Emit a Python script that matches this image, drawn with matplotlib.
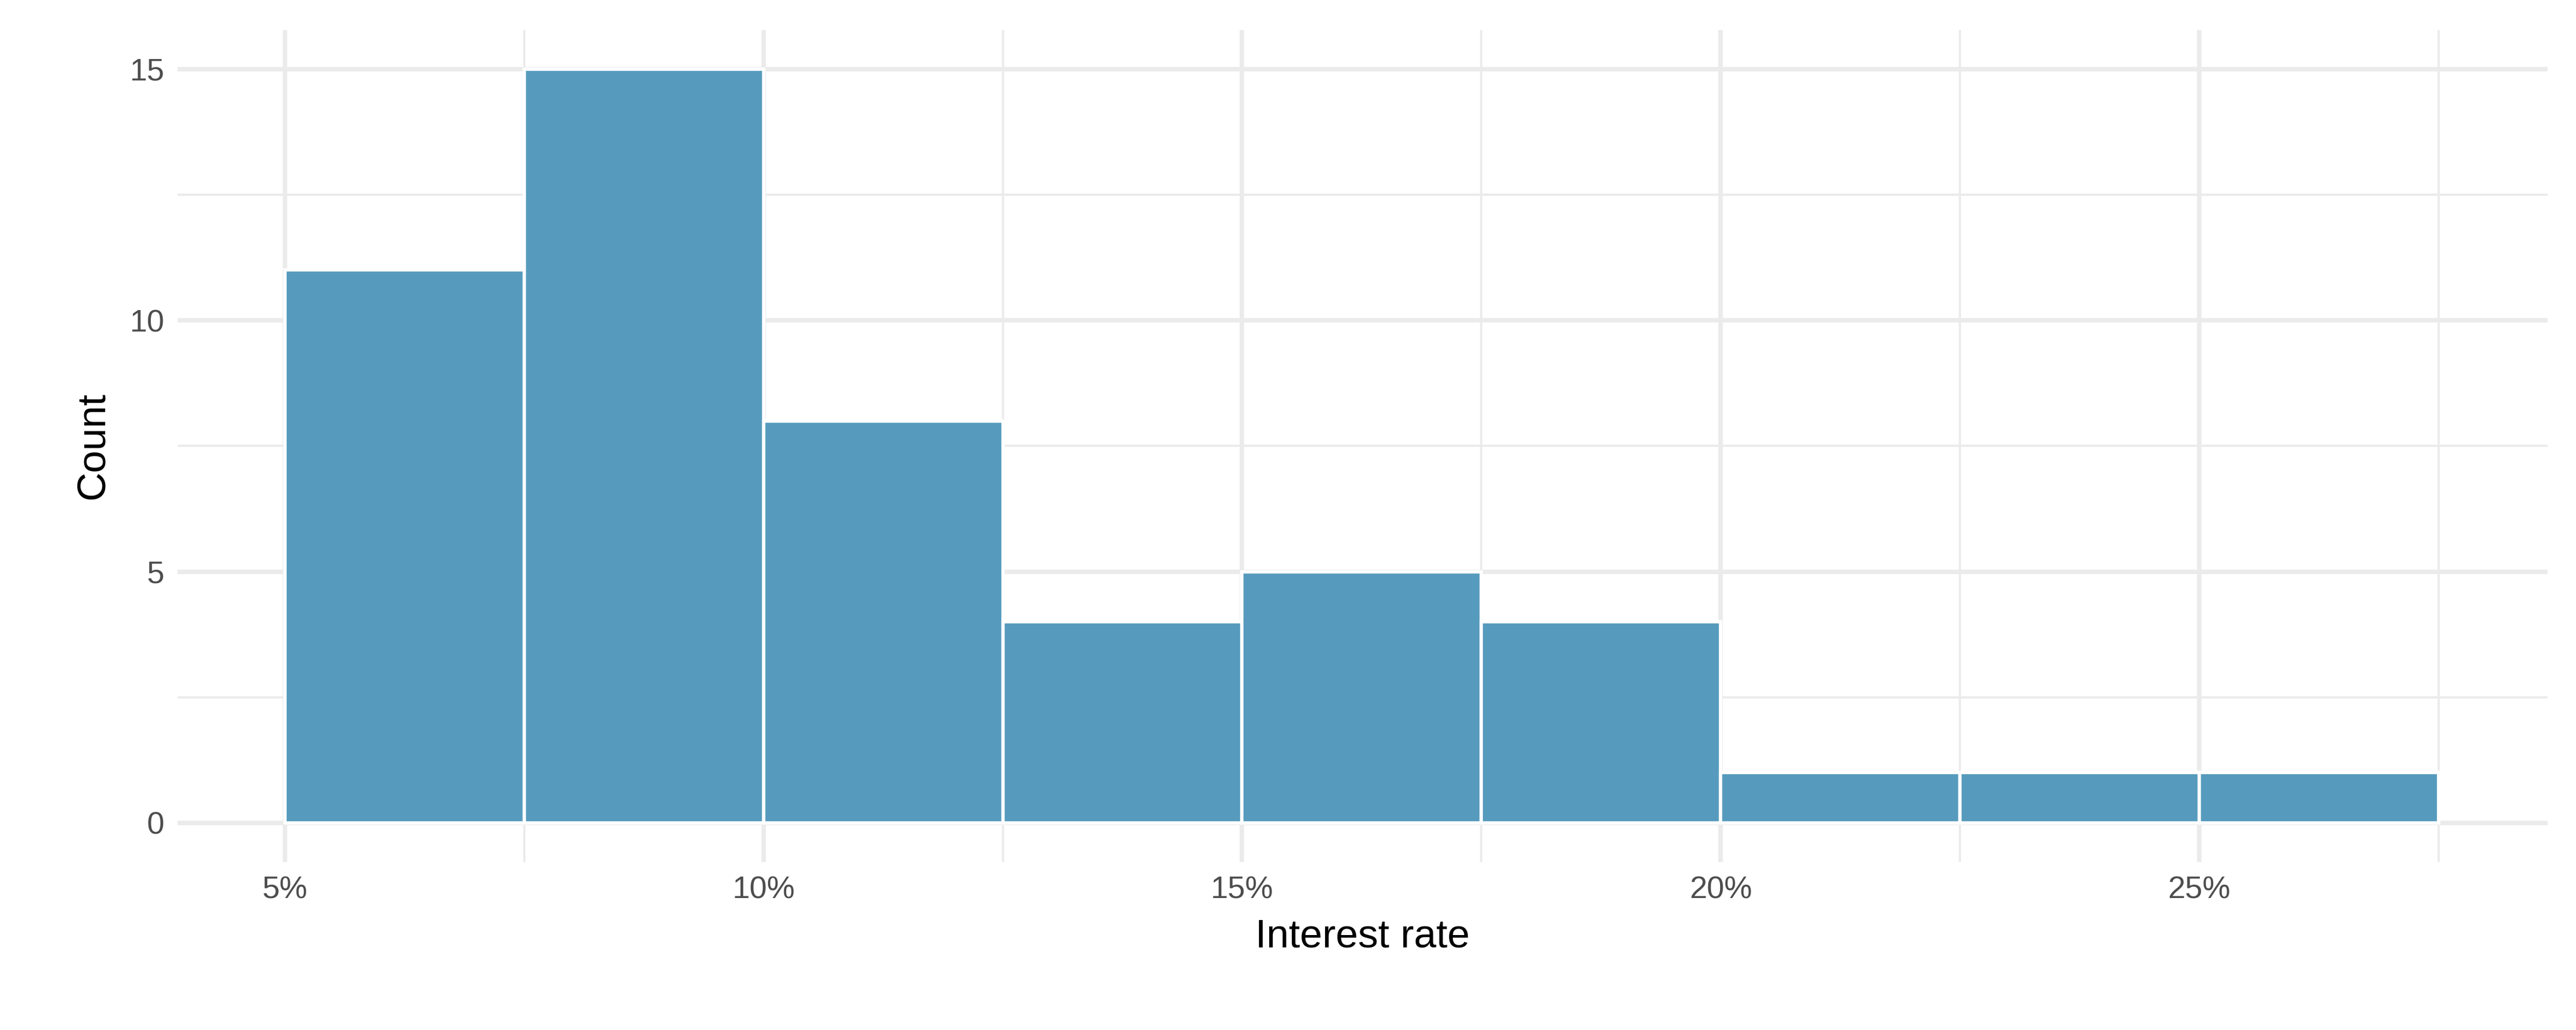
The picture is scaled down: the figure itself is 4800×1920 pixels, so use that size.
import matplotlib
matplotlib.use("Agg")
from matplotlib import pyplot as plt, ticker

bin_edges = [5, 7.5, 10, 12.5, 15, 17.5, 20, 22.5, 25, 27.5]
counts = [11, 15, 8, 4, 5, 4, 1, 1, 1]

plt.rcParams['font.family'] = ['Liberation Sans', 'DejaVu Sans']
fig = plt.figure(figsize=(16, 6.4), dpi=300)
ax = fig.add_axes([0.069, 0.163, 0.92, 0.808])

lefts = bin_edges[:-1]
widths = [b - a for a, b in zip(bin_edges[:-1], bin_edges[1:])]
ax.bar(lefts, counts, width=widths, align='edge', color='#569bbd',
       edgecolor='white', linewidth=1.5, zorder=3)

ax.set_xlim(3.88, 28.64)
ax.set_ylim(-0.78, 15.78)
ax.xaxis.set_major_locator(ticker.MultipleLocator(5))
ax.xaxis.set_minor_locator(ticker.MultipleLocator(2.5))
ax.yaxis.set_major_locator(ticker.MultipleLocator(5))
ax.yaxis.set_minor_locator(ticker.MultipleLocator(2.5))
ax.xaxis.set_major_formatter(ticker.FuncFormatter(lambda v, p: f"{v:.0f}%"))

ax.grid(which='major', color='#ebebeb', linewidth=2.0, zorder=0)
ax.grid(which='minor', color='#ebebeb', linewidth=1.0, zorder=0)
for s in ax.spines.values():
    s.set_visible(False)
ax.tick_params(which='both', length=0, labelsize=14, colors='#4d4d4d', pad=6)
ax.set_xlabel("Interest rate", fontsize=18, labelpad=6)
ax.set_ylabel("Count", fontsize=18, labelpad=8)

fig.savefig("out.png", dpi=300, facecolor='white')
